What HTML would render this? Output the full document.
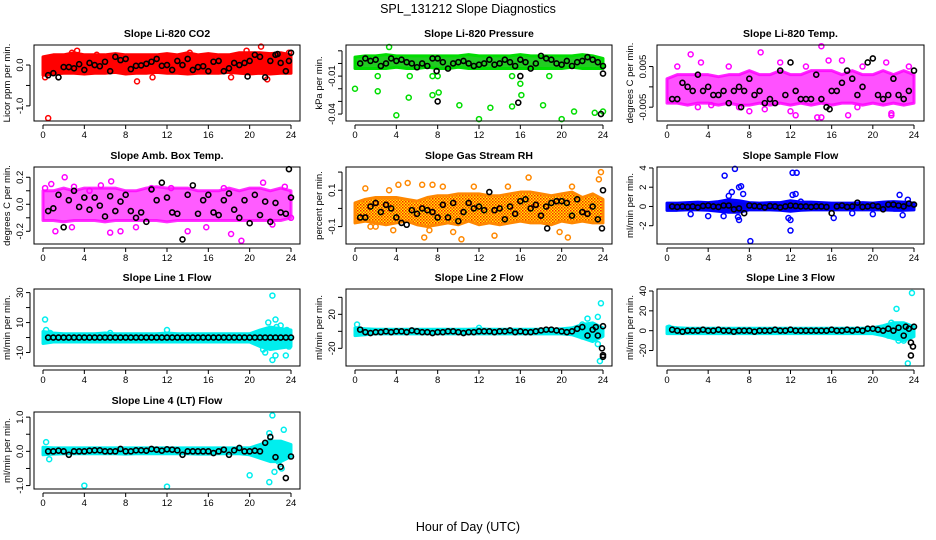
<!DOCTYPE html>
<html><head><meta charset="utf-8"><style>
html,body{margin:0;padding:0;background:#fff}
svg{display:block;font-family:"Liberation Sans",sans-serif}
</style></head><body>
<svg id="chart" width="936" height="540" viewBox="0 0 936 540" xmlns="http://www.w3.org/2000/svg">
<defs>
<pattern id="rhpat" width="3" height="3" patternUnits="userSpaceOnUse"><rect width="3" height="3" fill="#ffee00"/><rect x="0" y="0" width="1.5" height="1.5" fill="#ff2000"/><rect x="1.5" y="1.5" width="1.5" height="1.5" fill="#ff5000"/></pattern>
</defs>
<text x="468" y="13" text-anchor="middle" font-size="12.5">SPL_131212  Slope Diagnostics</text>
<text x="468" y="531" text-anchor="middle" font-size="12.5">Hour of Day (UTC)</text>
</svg>
<script>
// ---- data (hourly cloud bounds, black point values, extra points) ----
const xTicks = [0,4,8,12,16,20,24];

const co2Lo = [-0.25,-0.22,-0.2,-0.2,-0.22,-0.2,-0.2,-0.18,-0.22,-0.2,-0.2,-0.18,-0.2,-0.2,-0.22,-0.2,-0.2,-0.2,-0.18,-0.2,-0.22,-0.2,-0.22,-0.2,-0.2];
const co2Hi = [0.2,0.25,0.25,0.3,0.25,0.25,0.25,0.28,0.25,0.25,0.25,0.25,0.28,0.25,0.3,0.25,0.28,0.25,0.25,0.3,0.3,0.3,0.28,0.3,0.25];
const co2Black = [-0.25,-0.2,-0.3,-0.05,-0.05,-0.08,0.02,-0.12,0.05,0.0,-0.03,0.08,-0.15,0.2,0.12,0.15,-0.1,-0.02,-0.01,0.03,0.08,0.15,-0.02,0.0,-0.12,0.1,0.0,0.15,-0.12,-0.05,-0.03,-0.15,0.08,0.1,-0.15,-0.08,0.05,0.0,0.05,0.1,0.25,0.2,-0.3,0.1,0.25,0.05,-0.15,0.3];
const co2Pts = [[0.5,-1.3],[0.2,-0.3],[9.1,-0.4],[10.6,-0.3],[18.2,-0.3],[21.7,-0.35],[21.1,0.45],[19.7,0.35],[3.3,0.35],[2.8,0.3],[5.2,0.25],[14.2,0.3],[23.8,0.3]];
const co2Extra = [[23.8,0.1],[19.8,-0.28],[22.7,0.27]];

const presLo = [-0.004,-0.004,-0.004,-0.004,-0.003,-0.004,-0.004,-0.003,-0.004,-0.004,-0.003,-0.004,-0.004,-0.004,-0.004,-0.004,-0.004,-0.004,-0.004,-0.004,-0.004,-0.003,-0.004,-0.004,-0.004];
const presHi = [0.005,0.006,0.006,0.007,0.006,0.006,0.006,0.006,0.006,0.006,0.006,0.007,0.006,0.006,0.006,0.006,0.007,0.006,0.006,0.006,0.006,0.006,0.007,0.006,0.004];
const presBlack = [0.0,0.004,0.002,0.003,-0.002,0.0,0.004,0.002,0.003,0.001,0.0,-0.003,0.0,-0.002,0.004,0.004,0.001,-0.004,0.0,0.001,0.002,0.0,-0.002,-0.001,0.0,0.003,-0.001,0.0,0.003,0.001,-0.002,0.003,0.001,-0.004,0.0,0.006,0.004,0.003,0.0,-0.001,0.002,-0.002,0.001,0.002,0.005,0.003,0.001,-0.002];
const presPts = [[0,-0.02],[2.2,-0.022],[3.3,0.013],[4,-0.041],[5.2,-0.027],[7.5,-0.025],[8.1,-0.023],[10.1,-0.033],[12,-0.044],[13.1,-0.035],[15.2,-0.034],[16,-0.016],[18.2,-0.033],[20,-0.044],[21.2,-0.038],[23.2,-0.039],[24,-0.038],[2.2,-0.01],[7.5,-0.01],[15.2,-0.01],[5.3,-0.01],[18.8,-0.01],[8,-0.01],[16.1,-0.025]];
const presExtra = [[8,-0.03],[15.8,-0.031],[23.8,-0.04],[16,-0.01],[24,-0.008],[7.9,-0.006]];

const tempLo = [-0.004,-0.004,-0.0045,-0.004,-0.004,-0.0045,-0.004,-0.0045,-0.0045,-0.004,-0.0045,-0.004,-0.0045,-0.004,-0.0045,-0.004,-0.0045,-0.004,-0.004,-0.0045,-0.004,-0.0045,-0.004,-0.0045,-0.004];
const tempHi = [0.002,0.003,0.003,0.003,0.003,0.0025,0.003,0.003,0.004,0.003,0.003,0.004,0.003,0.003,0.004,0.004,0.004,0.003,0.004,0.003,0.003,0.004,0.003,0.004,0.003];
const tempBlack = [-0.003,-0.003,0.001,0.0,-0.001,0.003,-0.001,0.0,-0.002,-0.002,-0.001,-0.004,-0.001,0.0,-0.001,0.002,-0.002,-0.001,-0.004,-0.003,-0.004,0.004,-0.002,0.006,-0.001,-0.003,-0.003,-0.003,0.003,-0.003,-0.005,-0.001,-0.001,0.001,0.004,0.002,-0.002,0.0,0.006,0.007,-0.002,-0.003,-0.002,0.002,-0.002,-0.003,-0.001,0.004];
const tempPts = [[2.3,0.008],[3.3,0.006],[9.1,0.0085],[15,0.01],[15.7,0.0065],[17,0.0065],[12.5,-0.007],[14.6,-0.0075],[15,-0.0075],[21.8,-0.0065],[21.8,-0.007],[17.6,-0.007],[11,0.006],[21.3,0.006],[4.3,-0.0045],[8,-0.006],[9.5,-0.0055],[1,0.005],[6,0.005],[13.5,0.005],[19,0.005],[23.5,0.005],[12,-0.006],[18.5,-0.005],[3,-0.005],[7,-0.005]];
const tempExtra = [[15.8,-0.0055],[7.2,-0.005]];

const boxLo = [-0.12,-0.12,-0.13,-0.12,-0.12,-0.12,-0.13,-0.12,-0.12,-0.12,-0.12,-0.12,-0.13,-0.12,-0.12,-0.12,-0.12,-0.12,-0.12,-0.12,-0.12,-0.12,-0.12,-0.12,-0.1];
const boxHi = [0.1,0.1,0.12,0.1,0.12,0.12,0.12,0.12,0.1,0.1,0.12,0.13,0.12,0.12,0.12,0.1,0.1,0.1,0.12,0.1,0.12,0.12,0.1,0.12,0.1];
const boxBlack = [-0.05,-0.03,0.07,-0.17,0.03,0.1,-0.02,0.05,-0.04,0.05,-0.01,-0.09,0.06,-0.05,0.02,0.07,-0.05,-0.1,-0.06,-0.13,0.11,0.03,0.16,0.05,-0.06,-0.07,-0.26,0.07,0.14,-0.07,0.03,0.07,-0.06,-0.08,0.03,0.08,-0.04,-0.1,0.03,-0.14,0.07,-0.08,0.02,-0.13,0.01,-0.06,-0.07,0.05];
const boxPts = [[0.2,0.12],[1.2,-0.2],[2.1,0.2],[2.8,-0.17],[4.5,0.1],[6.5,-0.21],[6.6,0.17],[7.5,-0.2],[9,-0.17],[10.5,0.12],[14,-0.2],[15.8,-0.17],[18.2,-0.22],[19.2,-0.27],[21.3,0.16],[22.2,-0.15],[23.4,0.13],[24,-0.1],[5.6,0.14],[12.4,0.12],[17.5,0.12],[0.8,0.15],[3,0.13]];
const boxExtra = [[23.8,0.26]];

const rhLo = [-0.08,-0.07,-0.08,-0.09,-0.08,-0.07,-0.09,-0.1,-0.09,-0.08,-0.09,-0.07,-0.09,-0.08,-0.09,-0.08,-0.07,-0.08,-0.08,-0.09,-0.07,-0.08,-0.07,-0.08,-0.08];
const rhHi = [0.03,0.05,0.06,0.06,0.06,0.05,0.04,0.06,0.07,0.07,0.08,0.08,0.08,0.07,0.07,0.08,0.09,0.09,0.08,0.07,0.08,0.09,0.06,0.08,0.05];
const rhBlack = [-0.05,-0.05,0.01,0.03,-0.02,0.02,0.0,-0.05,-0.08,-0.09,-0.01,-0.03,0.0,-0.01,-0.02,-0.05,0.02,-0.05,0.03,-0.07,-0.02,0.03,0.0,0.01,-0.01,0.09,-0.01,0.0,-0.06,0.01,-0.03,0.04,0.05,0.0,0.02,-0.04,0.01,0.03,0.04,0.04,0.03,-0.04,0.05,-0.02,-0.03,0.01,-0.06,0.1];
const rhPts = [[1,0.11],[3.3,0.1],[4.2,0.13],[5.1,0.14],[6.5,0.13],[7.5,0.13],[8.5,0.12],[11.5,0.12],[14.8,0.12],[16.8,0.17],[23.8,0.2],[23.6,0.16],[21,0.12],[6.7,-0.16],[7.2,-0.12],[9.5,-0.13],[10.3,-0.17],[13.5,-0.15],[19.8,-0.13],[20.6,-0.16],[3.7,-0.12],[1.5,-0.1],[2,-0.1]];
const rhExtra = [[23.9,-0.11],[18.6,-0.11]];

const flowLo = [-0.4,-0.4,-0.35,-0.35,-0.4,-0.5,-0.6,-0.6,-0.35,-0.35,-0.35,-0.4,-0.5,-0.4,-0.35,-0.35,-0.35,-0.35,-0.35,-0.35,-0.35,-0.35,-0.4,-0.4,-0.35];
const flowHi = [0.35,0.35,0.4,0.45,0.4,0.5,0.7,0.6,0.4,0.35,0.4,0.4,0.6,0.45,0.45,0.4,0.35,0.35,0.35,0.4,0.35,0.45,0.5,0.45,0.35];
const flowBlack = [0.0,-0.05,0.0,-0.05,0.0,-0.1,0.05,0.1,0.0,-0.05,0.1,0.1,-0.3,-0.2,-0.7,0.1,0.05,0.0,-0.1,0.05,0.0,-0.1,0.0,0.1,0.05,0.0,0.0,-0.05,0.0,0.0,-0.05,-0.7,0.0,0.1,-0.05,0.0,0.4,-0.05,0.0,0.1,0.0,-0.3,0.2,0.2,0.1,0.0,0.3,0.2];
const flowPts = [[5.6,3.2],[6.6,3.9],[7.2,2.1],[7,2],[6.3,1.5],[6,1.1],[7.4,1.3],[6.9,-1.1],[7,-1.4],[5.5,-1.0],[4,-1],[8.1,-3.6],[12.2,3.5],[12.6,3.5],[12,-2.5],[12,-1.4],[11.8,-1.2],[12.2,1.2],[12.5,1.3],[16.2,-1.2],[13,0.5],[22.6,1.2],[22.9,-0.9],[23.4,0.7],[20,-0.8],[2.3,-0.8],[18,-0.7]];
const flowExtra = [];

const l1Lo = [-4,-3,-3,-3,-3,-3,-3,-3,-3,-3,-3,-3,-3,-3,-3,-3,-3,-3,-3,-3,-3,-6,-8,-7,-6];
const l1Hi = [4,3,2.5,2.5,2.5,2.5,3,2.5,2.5,2.5,2.5,2.5,3,2.5,2.5,2.5,2.5,2.5,2.5,2.5,2.5,5,7,6,5];
const l1Black = [0,0,0,0,0,0,0,0,0,0,0,0,0,0,0,0,0,0,0,0,0,0,0,0,0,0,0,0,0,0,0,0,0,0,0,0,0,0,0,0,0,0,0,0,0,0,0,0];
const l1Pts = [[0.2,12],[0.3,5],[0.7,3],[6.5,3],[12,5],[21.5,-10],[21.3,-8],[21.8,10],[22.2,28],[22.5,12],[22.6,7],[23,8],[22.5,-12],[23.1,-4],[23.5,-12],[22.2,-15],[23.6,-5],[23.8,-6],[23.6,5]];
const l1Extra = [];

const l2Lo = [-5,-4,-3,-3,-3,-3,-3,-3,-3,-3,-3,-3,-3,-3,-3,-3,-3,-3,-3,-3,-3,-4,-8,-12,-6];
const l2Hi = [4,3,2.5,2.5,2.5,2.5,2.5,2.5,2.5,2.5,2.5,2.5,3,2.5,2.5,2.5,2.5,2.5,2.5,2.5,3,4,8,10,4];
const l2Black = [2,-1,-2,-1,-1,0,-1,0,0,-1,1,0,-1,-1,-2,-1,-1,0,0,-1,-2,-1,-1,0,0,0,-1,0,0,1,-1,0,-1,-1,0,1,2,2,1,0,-1,0,3,5,-5,2,-5,6];
const l2Pts = [[0.2,8],[12,4],[22,8],[22.5,15],[23.5,17],[23.8,33],[23.7,-35],[23.5,-15],[23.2,-7],[22.6,-3],[22,-6]];
const l2Extra = [[23.9,-20],[24,-28],[24,-30],[23.3,5]];

const l3Lo = [-3,-3,-3,-3,-3,-3,-3,-3,-3,-3,-3,-3,-3,-3,-3,-3,-3,-3,-3,-3,-3,-5,-8,-10,-6];
const l3Hi = [4,3,2.5,2.5,2.5,2.5,2.5,2.5,2.5,2.5,2.5,2.5,2.5,2.5,2.5,2.5,2.5,2.5,2.5,2.5,3,5,8,8,4];
const l3Black = [1,0,-1,0,0,0,1,0,0,1,0,0,-1,0,0,0,-1,0,0,0,1,0,0,1,0,0,0,0,0,0,0,1,0,0,1,0,1,0,2,2,1,0,2,0,3,-5,2,4];
const l3Pts = [[22.3,22],[23.8,38],[23.4,-33],[22.5,-10],[23,-10],[21.5,-5],[21.8,8],[0.2,3]];
const l3Extra = [[23.7,-12],[23.9,-16],[23.7,-25],[23.2,4]];

const l4Lo = [-0.1,-0.08,-0.07,-0.07,-0.07,-0.07,-0.07,-0.07,-0.08,-0.07,-0.07,-0.07,-0.07,-0.07,-0.07,-0.08,-0.08,-0.07,-0.07,-0.07,-0.1,-0.2,-0.3,-0.3,-0.15];
const l4Hi = [0.12,0.1,0.1,0.1,0.1,0.1,0.1,0.1,0.1,0.1,0.1,0.1,0.1,0.1,0.1,0.1,0.1,0.1,0.1,0.1,0.1,0.2,0.3,0.3,0.2];
const l4Black = [0,0,0.02,0,-0.1,0,0,0,0.02,0.03,0.03,0,0,0,0.07,0,0,0.03,0.03,0.02,0.07,0.05,0.02,0.06,0.05,0.03,-0.1,0,0,0,0,0,-0.05,0,0.05,-0.1,0.03,0.1,0,0,0.02,0,0.25,0.42,-0.17,-0.45,-0.78,-0.15];
const l4Pts = [[4,-1],[12,-1.03],[20,-0.7],[21.9,-0.9],[22.4,-0.6],[22.2,1.05],[21.9,0.53],[23.3,0.63],[22,0.3],[23.1,-0.5],[22.8,-0.3],[0.3,0.27],[0.6,-0.23]];
const l4Extra = [];

// ---- drawing ----
const svg = document.getElementById('chart');
const NS = 'http://www.w3.org/2000/svg';
function mk(tag, attrs, parent){ const e=document.createElementNS(NS,tag); for(const k in attrs) e.setAttribute(k,attrs[k]); (parent||svg).appendChild(e); return e; }

const cols=[[34,300,43,291],[346,612,355,603],[657,924,667,914]];
const rows=[[45,121],[167,244],[289,366],[412,489]];

const panels=[
 {key:'co2',title:'Slope Li-820 CO2',ylab:'Licor ppm per min.',r:0,c:0,ymin:-1.37,ymax:0.49,ticks:[-1,-0.5,0],labels:{'-1':'-1.0','0':'0.0'},color:'#ff0000',fill:'#ff0000',lo:co2Lo,hi:co2Hi,blk:co2Black,pts:co2Pts,ext:co2Extra},
 {key:'pressure',title:'Slope Li-820 Pressure',ylab:'kPa per min.',r:0,c:1,ymin:-0.0455,ymax:0.0146,ticks:[-0.04,-0.03,-0.02,-0.01,0,0.01],labels:{'-0.04':'-0.04','-0.01':'-0.01'},color:'#00dd00',fill:'#22cc22',lo:presLo,hi:presHi,blk:presBlack,pts:presPts,ext:presExtra},
 {key:'temp',title:'Slope Li-820 Temp.',ylab:'degrees C per min.',r:0,c:2,ymin:-0.0084,ymax:0.0103,ticks:[-0.005,0,0.005],labels:{'-0.005':'-0.005','0.005':'0.005'},color:'#ff00ff',fill:'#ff33ff',op:0.85,lo:tempLo,hi:tempHi,blk:tempBlack,pts:tempPts,ext:tempExtra},
 {key:'box-temp',title:'Slope Amb. Box Temp.',ylab:'degrees C per min.',r:1,c:0,ymin:-0.294,ymax:0.276,ticks:[-0.2,-0.1,0,0.1,0.2],labels:{'-0.2':'-0.2','0':'0.0','0.2':'0.2'},color:'#ff00ff',fill:'#ff33ff',op:0.8,lo:boxLo,hi:boxHi,blk:boxBlack,pts:boxPts,ext:boxExtra},
 {key:'rh',title:'Slope Gas Stream RH',ylab:'percent per min.',r:1,c:1,ymin:-0.196,ymax:0.228,ticks:[-0.1,0,0.1,0.2],labels:{'-0.1':'-0.1','0.1':'0.1'},color:'#ff8800',fill:'url(#rhpat)',lo:rhLo,hi:rhHi,blk:rhBlack,pts:rhPts,ext:rhExtra},
 {key:'sample-flow',title:'Slope Sample Flow',ylab:'ml/min per min.',r:1,c:2,ymin:-3.9,ymax:4.1,ticks:[-2,0,2,4],labels:{'-2':'-2','0':'0','2':'2','4':'4'},color:'#0000ff',fill:'#0000ee',lo:flowLo,hi:flowHi,blk:flowBlack,pts:flowPts,ext:flowExtra},
 {key:'line1-flow',title:'Slope Line 1 Flow',ylab:'ml/min per min.',r:2,c:0,ymin:-19,ymax:32.4,ticks:[-10,0,10,20,30],labels:{'-10':'-10','10':'10','30':'30'},color:'#00eeee',fill:'#00eeee',lo:l1Lo,hi:l1Hi,blk:l1Black,pts:l1Pts,ext:l1Extra},
 {key:'line2-flow',title:'Slope Line 2 Flow',ylab:'ml/min per min.',r:2,c:1,ymin:-40.8,ymax:49.8,ticks:[-20,0,20,40],labels:{'-20':'-20','20':'20'},color:'#00eeee',fill:'#00eeee',lo:l2Lo,hi:l2Hi,blk:l2Black,pts:l2Pts,ext:l2Extra},
 {key:'line3-flow',title:'Slope Line 3 Flow',ylab:'ml/min per min.',r:2,c:2,ymin:-35.6,ymax:42,ticks:[-20,0,20,40],labels:{'-20':'-20','0':'0','20':'20','40':'40'},color:'#00eeee',fill:'#00eeee',lo:l3Lo,hi:l3Hi,blk:l3Black,pts:l3Pts,ext:l3Extra},
 {key:'line4-flow',title:'Slope Line 4 (LT) Flow',ylab:'ml/min per min.',r:3,c:0,ymin:-1.1,ymax:1.15,ticks:[-1,-0.5,0,0.5,1],labels:{'-1':'-1.0','0':'0.0','1':'1.0'},color:'#00eeee',fill:'#00eeee',lo:l4Lo,hi:l4Hi,blk:l4Black,pts:l4Pts,ext:l4Extra}
];

panels.forEach(p=>{
  const [L,R,x0,x24]=cols[p.c]; const [T,B]=rows[p.r];
  const xs=v=>x0+(x24-x0)*v/24;
  const ys=v=>B-(B-T)*(v-p.ymin)/(p.ymax-p.ymin);
  const g=mk('g',{});
  
  
  const t=mk('text',{x:(L+R)/2,y:T-8,'text-anchor':'middle','font-size':10.5,'font-weight':'bold'},g);
  t.textContent=p.title;
  
  
  const up=p.hi.map((v,i)=>xs(i)+','+ys(v)); const dn=p.lo.map((v,i)=>xs(i)+','+ys(v)).reverse();
  const band=mk('polygon',{points:up.concat(dn).join(' '),fill:p.fill,stroke:p.color,'stroke-width':3,'stroke-linejoin':'round','fill-opacity':p.op||1,'stroke-opacity':p.op||1},g);
  
  
  p.pts.forEach(pt=>{
    const c=mk('circle',{cx:xs(pt[0]),cy:ys(pt[1]),r:2.5,fill:'none',stroke:p.color,'stroke-width':1.5},g);
    
    
  });
  const n=p.blk.length;
  p.blk.forEach((v,i)=>{
    const c=mk('circle',{cx:xs((i+1)*24/n),cy:ys(v),r:2.5,fill:'none',stroke:'#000','stroke-width':1.6},g);
    
    
  });
  p.ext.forEach(pt=>{
    const c=mk('circle',{cx:xs(pt[0]),cy:ys(pt[1]),r:2.5,fill:'none',stroke:'#000','stroke-width':1.6},g);
    
    
  });
  const box=mk('rect',{x:L,y:T,width:R-L,height:B-T,fill:'none',stroke:'#000','stroke-width':1},g);
  
  
  mk('line',{x1:x0,x2:x24,y1:B+4,y2:B+4,stroke:'#000'},g);
  xTicks.forEach(v=>{
    mk('line',{x1:xs(v),x2:xs(v),y1:B+4,y2:B+8,stroke:'#000'},g);
    const tl=mk('text',{x:xs(v),y:B+17,'text-anchor':'middle','font-size':9.5},g);
    tl.textContent=v;
    
    
  });
  const tks=p.ticks.filter(v=>v>=p.ymin&&v<=p.ymax);
  mk('line',{x1:L-4,x2:L-4,y1:ys(tks[0]),y2:ys(tks[tks.length-1]),stroke:'#000'},g);
  tks.forEach(v=>{
    mk('line',{x1:L-8,x2:L-4,y1:ys(v),y2:ys(v),stroke:'#000'},g);
    const lab=p.labels[String(v)];
    if(lab){
      const tl=mk('text',{x:L-11,y:ys(v),'text-anchor':'middle','font-size':9.5,transform:`rotate(-90 ${L-11} ${ys(v)})`},g);
      tl.textContent=lab;
      
      
    }
  });
  const yl=mk('text',{x:L-24,y:(T+B)/2,'text-anchor':'middle','font-size':9.5,transform:`rotate(-90 ${L-24} ${(T+B)/2})`},g);
  yl.textContent=p.ylab;
  
  
});
</script>
</body></html>
